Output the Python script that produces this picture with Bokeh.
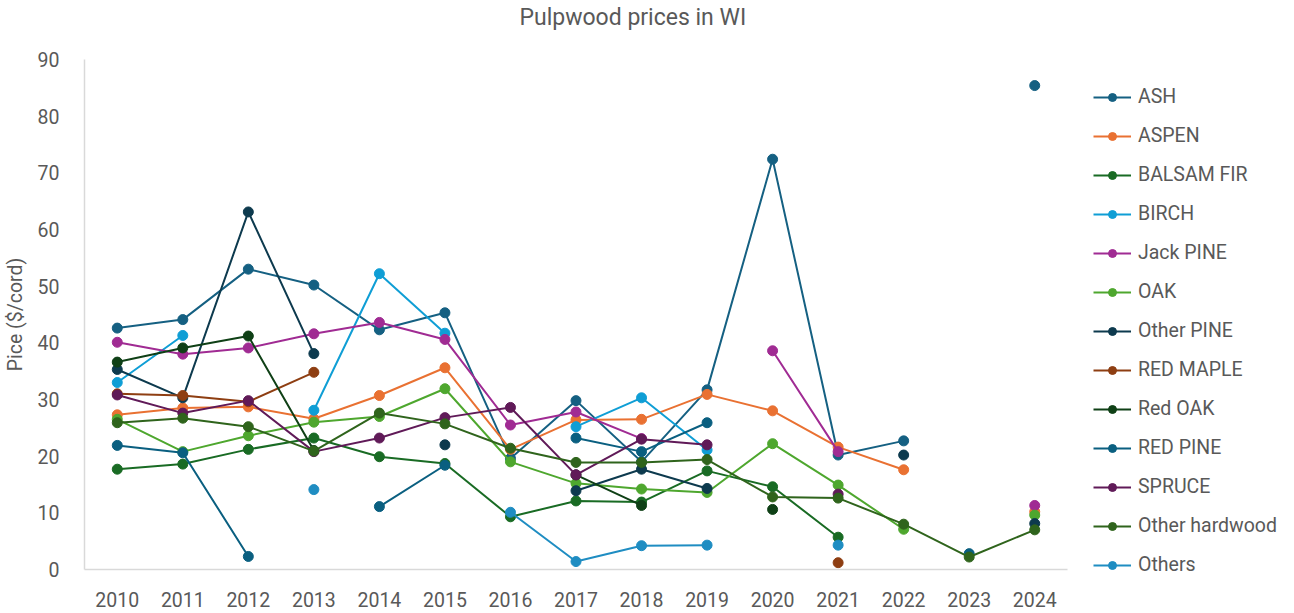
import math
from bokeh.plotting import figure
from bokeh.models import Legend, LegendItem, FixedTicker, Range1d, Title
from bokeh.embed import file_html
from bokeh.resources import INLINE

N = float("nan")

years = list(range(2010, 2025))
year_labels = [str(y) for y in years]
y_ticks = list(range(0, 100, 10))

ash = [42.6, 44.1, 53.0, 50.2, 42.3, 45.3, 19.6, 29.8, 19.0, 31.7, 72.4, 20.2, 22.7, N, 85.4]
aspen = [27.3, 28.5, 28.7, 26.6, 30.7, 35.6, 21.2, 26.4, 26.5, 30.9, 28.0, 21.6, 17.6, N, 10.2]
balsam_fir = [17.7, 18.6, 21.2, 23.2, 19.9, 18.7, 9.3, 12.1, 11.9, 17.4, 14.6, 5.7, N, N, N]
birch = [33.0, 41.3, N, 28.1, 52.2, 41.7, N, 25.2, 30.3, 21.1, N, N, N, N, N]
jack_pine = [40.1, 38.0, 39.1, 41.6, 43.6, 40.6, 25.5, 27.8, 23.1, N, 38.6, 20.8, N, N, 11.3]
oak = [26.5, 20.8, 23.6, 26.0, 27.0, 31.9, 19.0, 15.2, 14.2, 13.6, 22.2, 14.9, 7.1, N, 9.6]
other_pine = [35.3, 30.3, 63.1, 38.1, N, 22.0, N, 13.9, 17.7, 14.3, N, N, 20.2, N, 8.1]
red_maple = [31.0, 30.7, 29.6, 34.8, N, N, N, N, N, N, N, 1.2, N, N, N]
red_oak = [36.6, 39.1, 41.2, 21.0, N, N, N, 16.7, 11.3, N, 10.6, N, N, N, N]
red_pine = [21.9, 20.6, 2.3, N, 11.1, 18.4, N, 23.2, 20.8, 25.9, N, N, N, 2.8, N]
spruce = [30.8, 27.6, 29.8, 20.8, 23.2, 26.8, 28.6, 16.7, 23.0, 22.0, N, 13.3, N, N, N]
other_hardwood = [25.9, 26.7, 25.2, 20.9, 27.6, 25.7, 21.4, 18.9, 18.9, 19.4, 12.8, 12.6, 8.0, 2.2, 7.0]
others = [N, N, N, 14.1, N, N, 10.1, 1.4, 4.2, 4.3, N, 4.3, N, N, N]

series_names = ["ASH", "ASPEN", "BALSAM FIR", "BIRCH", "Jack PINE", "OAK", "Other PINE",
                "RED MAPLE", "Red OAK", "RED PINE", "SPRUCE", "Other hardwood", "Others"]
series_values = [ash, aspen, balsam_fir, birch, jack_pine, oak, other_pine,
                 red_maple, red_oak, red_pine, spruce, other_hardwood, others]
series_colors = ["#156082", "#E97132", "#196B24", "#0F9ED5", "#A02B93", "#4EA72E", "#0D3A4E",
                 "#8E3E12", "#0F4016", "#0A5F80", "#601A58", "#2F641C", "#1F8DC2"]

title_text = "Pulpwood prices in WI"
FONT = "Roboto"
TXT = "#595959"
FRAME_W, FRAME_H = 983, 510

p = figure(frame_width=FRAME_W, frame_height=FRAME_H,
           x_range=Range1d(2009.5, 2024.5), y_range=Range1d(0, 90),
           output_backend="svg", toolbar_location=None, title_location=None,
           min_border_left=76, min_border_right=219, min_border_top=59, min_border_bottom=44)

# spacer between the title and the plot frame
spacer = Title(text=" ", text_font_size="1px", standoff=22)
p.add_layout(spacer, "above")

main_title = Title(text=title_text, align="left", offset=435, vertical_align="middle",
                   standoff=5, text_font=FONT, text_font_size="23px",
                   text_font_style="normal", text_color=TXT)
p.add_layout(main_title, "above")

items = []
for name, vals, col in zip(series_names, series_values, series_colors):
    r1 = p.line(years, vals, line_color=col, line_width=2)
    r2 = p.scatter(years, vals, size=10, fill_color=col, line_color=col, marker="circle")
    items.append(LegendItem(label=name, renderers=[r1, r2]))

p.xgrid.visible = False
p.ygrid.visible = False
p.outline_line_color = None

for ax in (p.xaxis[0], p.yaxis[0]):
    ax.axis_line_color = "#D9D9D9"
    ax.axis_line_width = 1.5
    ax.major_tick_line_color = None
    ax.minor_tick_line_color = None
    ax.major_label_text_font = FONT
    ax.major_label_text_font_size = "19.5px"
    ax.major_label_text_color = TXT

p.xaxis.ticker = FixedTicker(ticks=years)
p.xaxis.major_label_overrides = {y: l for y, l in zip(years, year_labels)}
p.xaxis.major_label_standoff = 16
p.yaxis.ticker = FixedTicker(ticks=y_ticks)
p.yaxis.major_label_standoff = 19
p.yaxis.axis_label = "Pice ($/cord)"
p.yaxis.axis_label_text_font = FONT
p.yaxis.axis_label_text_font_size = "19.5px"
p.yaxis.axis_label_text_font_style = "normal"
p.yaxis.axis_label_text_color = TXT
p.yaxis.axis_label_standoff = 8

legend = Legend(items=items, location="top_left", orientation="vertical",
                glyph_width=38, glyph_height=20, label_height=20, spacing=16,
                label_standoff=7, label_text_font=FONT, label_text_font_size="19.5px",
                label_text_color=TXT, border_line_color=None, background_fill_alpha=0,
                padding=0, margin=26)
p.add_layout(legend, "right")

open("out.html", "w").write(file_html(p, INLINE))
